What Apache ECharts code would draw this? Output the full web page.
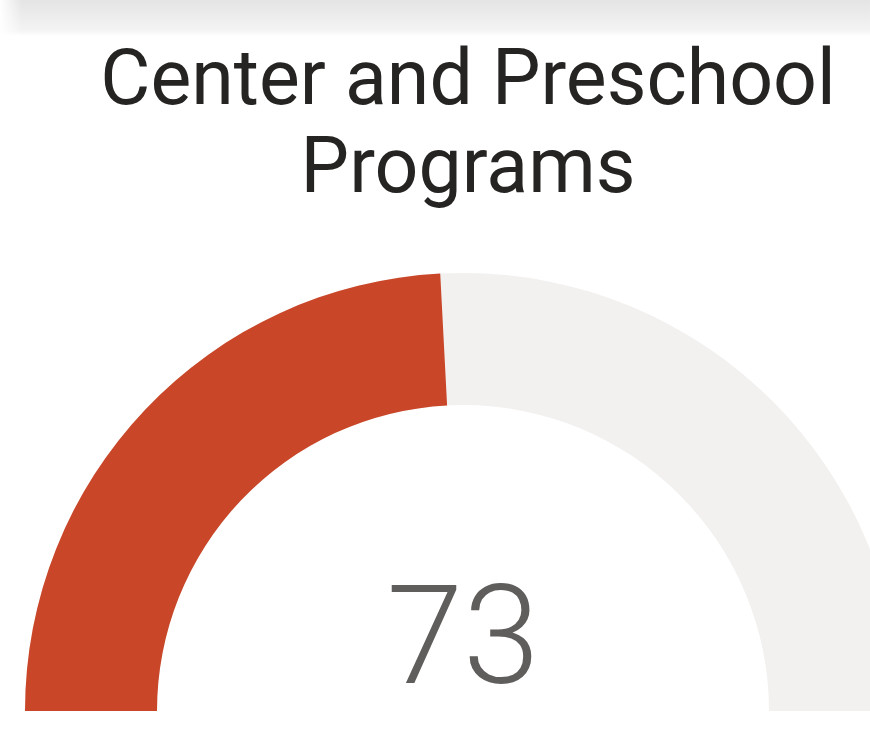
<!DOCTYPE html>
<html>
<head>
<meta charset="utf-8">
<script src="https://cdn.jsdelivr.net/npm/echarts@6/dist/echarts.min.js"></script>
<style>
	html, body { margin: 0; padding: 0; background: #fff; }
	#chart_1 { width: 870px; height: 731px; }
</style>
</head>
<body>
<div id="chart_1"></div>
<script>
var titleText = 'Center and Preschool\nPrograms';
var gaugeMin = 0;
var gaugeMax = 151;
var gaugeValue = [73];

// 初始化
var myChart = echarts.init(document.getElementById('chart_1'));
var option = {
	backgroundColor: '#fff',
	animation: false,
	graphic: [{
		type: 'rect',
		shape: { x: 0, y: 0, width: 870, height: 36 },
		style: {
			fill: {
				type: 'linear', x: 0, y: 0, x2: 0, y2: 1,
				colorStops: [
					{ offset: 0, color: '#e4e4e4' },
					{ offset: 0.85, color: '#f4f4f4' },
					{ offset: 1, color: '#ffffff' }
				]
			}
		},
		z: -1
	}, {
		type: 'rect',
		shape: { x: 0, y: 0, width: 22, height: 36 },
		style: {
			fill: {
				type: 'linear', x: 0, y: 0, x2: 1, y2: 0,
				colorStops: [
					{ offset: 0, color: '#ffffff' },
					{ offset: 1, color: 'rgba(255,255,255,0)' }
				]
			}
		},
		z: -1
	}],
	title: {
		text: titleText,
		left: 463,
		top: 36,
		textAlign: 'center',
		textStyle: {
			fontFamily: 'Roboto',
			fontWeight: 'normal',
			fontSize: 77,
			lineHeight: 88,
			color: '#252423'
		}
	},
	series: [{
		type: 'gauge',
		center: [463, 711],
		radius: 438,
		startAngle: 180,
		endAngle: 0,
		min: gaugeMin,
		max: gaugeMax,
		progress: {
			show: true,
			width: 132,
			roundCap: false,
			itemStyle: { color: '#C94628' }
		},
		axisLine: {
			roundCap: false,
			lineStyle: { width: 132, color: [[1, '#F2F1F0']] }
		},
		pointer: { show: false },
		anchor: { show: false },
		axisTick: { show: false },
		splitLine: { show: false },
		axisLabel: { show: false },
		title: { show: false },
		detail: {
			valueAnimation: false,
			offsetCenter: [0, -63],
			fontFamily: 'Roboto',
			fontWeight: 300,
			fontSize: 138,
			color: '#605E5C',
			formatter: '{value}'
		},
		data: [{ value: gaugeValue[0] }]
	}]
};
myChart.setOption(option);
window.addEventListener("resize", function() {
	myChart.resize();
});
</script>
</body>
</html>
